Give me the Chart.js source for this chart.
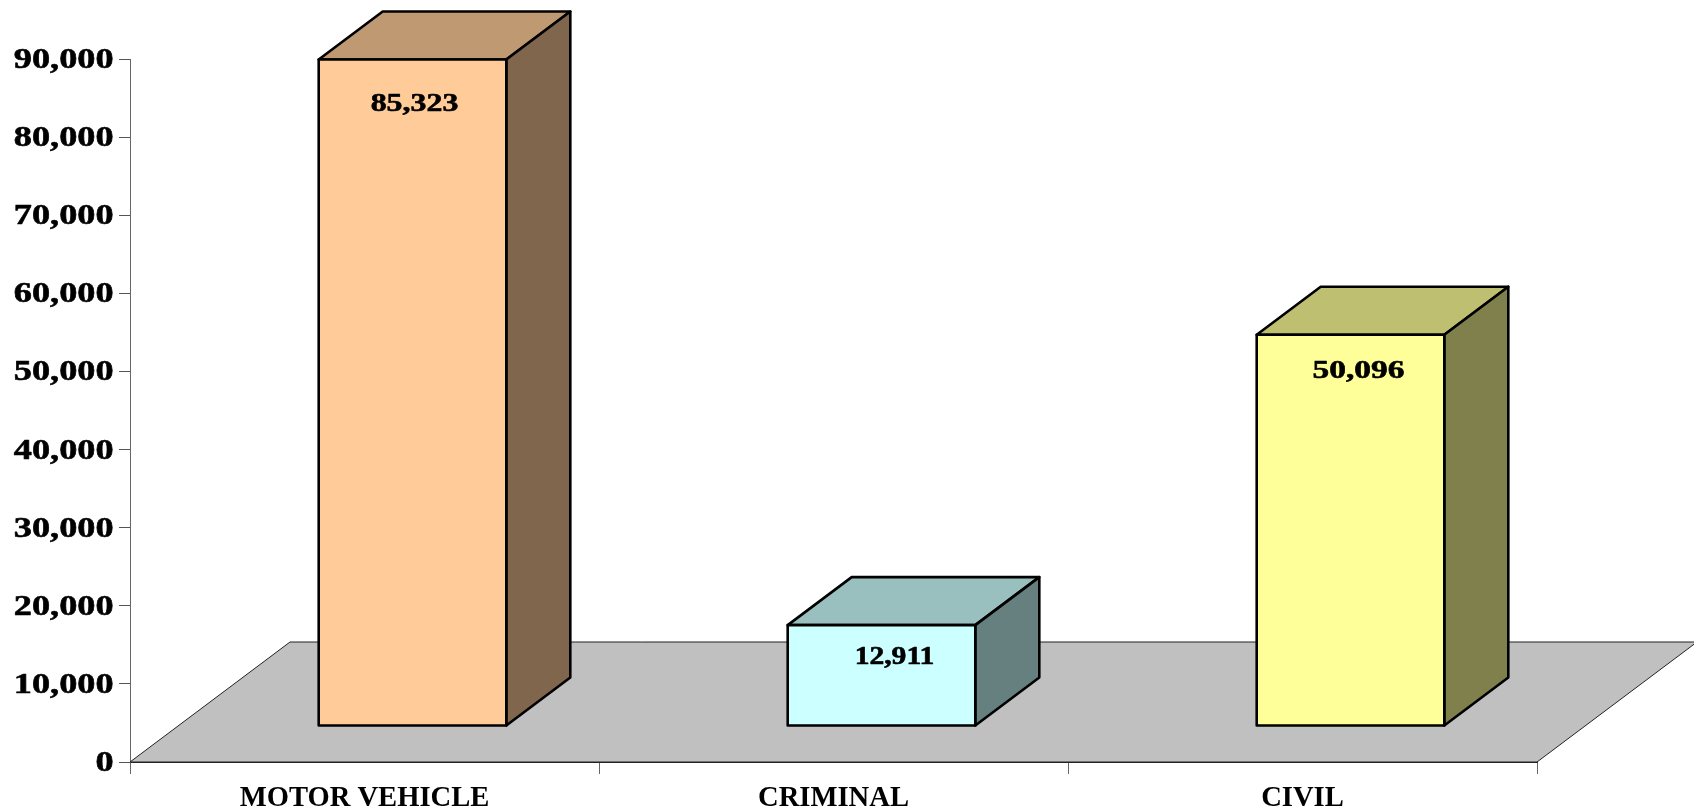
<!DOCTYPE html>
<html>
<head>
<meta charset="utf-8">
<title>Filings by case type</title>
<script src="https://cdn.jsdelivr.net/npm/chart.js@4"></script>
<style>
  html, body { margin: 0; padding: 0; background: #fff; }
  canvas { display: block; }
</style>
</head>
<body>
<canvas id="chart" width="1694" height="812"></canvas>
<script>
const categories = ['MOTOR VEHICLE', 'CRIMINAL', 'CIVIL'];
const caseCounts = [85323, 12911, 50096];
const yTicks = [0, 10000, 20000, 30000, 40000, 50000, 60000, 70000, 80000, 90000];

const frontColors = ['#FFCC99', '#CCFFFF', '#FFFF99'];
const topColors = ['#BF9972', '#99BFBF', '#BFBF72'];
const sideColors = ['#80664D', '#668080', '#80804D'];

// label nudges from the bar's centre / top, the original places them unevenly
const labelShiftX = [2, 13, 8];
const labelShiftY = [45, 32, 37];
const labelWide = [1.25, 1.16, 1.31];

const FONT = '"Liberation Serif", serif';
const TICK_WIDE = 1.25; // the numbers in the original are stretched sideways
const EDGE = 2.6;

// 3d look: floor receded by this much, bars stand part way back on it
const floorDepth = { x: 160, y: 120 };
const barLift = { x: 48, y: 36 };
const barDepth = { x: 64, y: 48 };

function fillPoly(ctx, pts, fill, stroke, lineWidth) {
  ctx.beginPath();
  pts.forEach((p, i) => i ? ctx.lineTo(p[0], p[1]) : ctx.moveTo(p[0], p[1]));
  ctx.closePath();
  if (fill) {
    ctx.fillStyle = fill;
    ctx.fill();
  }
  if (stroke) {
    ctx.strokeStyle = stroke;
    ctx.lineWidth = lineWidth;
    ctx.lineJoin = 'round';
    ctx.stroke();
  }
}

function wideText(ctx, text, x, y, align, size, wide) {
  ctx.save();
  ctx.translate(x, y);
  ctx.scale(wide, 1);
  ctx.font = 'bold ' + size + 'px ' + FONT;
  ctx.fillStyle = '#000';
  ctx.strokeStyle = '#000';
  ctx.lineWidth = 0.6;
  ctx.textAlign = align;
  ctx.textBaseline = 'middle';
  ctx.fillText(text, 0, 0);
  ctx.strokeText(text, 0, 0);
  ctx.restore();
}

const box3d = {
  id: 'box3d',
  beforeDatasetsDraw(chart) {
    const ctx = chart.ctx;
    const area = chart.chartArea;

    // floor
    fillPoly(ctx, [
      [area.left, area.bottom],
      [area.left + floorDepth.x, area.bottom - floorDepth.y],
      [area.right + floorDepth.x, area.bottom - floorDepth.y],
      [area.right, area.bottom]
    ], '#C0C0C0', '#222', 1);

    // everything in the dataset layer sits on the floor, not on the axis line
    ctx.save();
    ctx.translate(barLift.x, -barLift.y);

    chart.getDatasetMeta(0).data.forEach((bar, i) => {
      const left = bar.x - bar.width / 2;
      const right = bar.x + bar.width / 2;
      const dx = barDepth.x, dy = barDepth.y;
      fillPoly(ctx, [[left, bar.y], [left + dx, bar.y - dy], [right + dx, bar.y - dy], [right, bar.y]],
        topColors[i], '#000', EDGE);
      fillPoly(ctx, [[right, bar.y], [right + dx, bar.y - dy], [right + dx, bar.base - dy], [right, bar.base]],
        sideColors[i], '#000', EDGE);
    });
  },
  afterDatasetsDraw(chart) {
    const ctx = chart.ctx;
    chart.getDatasetMeta(0).data.forEach((bar, i) => {
      const left = bar.x - bar.width / 2;
      const right = bar.x + bar.width / 2;
      // centred outline, the bar's own border would sit inside the value height
      fillPoly(ctx, [[left, bar.y], [right, bar.y], [right, bar.base], [left, bar.base]], null, '#000', EDGE);
      wideText(ctx, caseCounts[i].toLocaleString('en-US'),
        bar.x + labelShiftX[i], bar.y + labelShiftY[i], 'center', 25.5, labelWide[i]);
    });
    ctx.restore();

    // y tick labels
    const y = chart.scales.y;
    y.ticks.forEach((tick, i) => {
      wideText(ctx, tick.label, 113.5, y.getPixelForTick(i) + 1.5, 'right', 29, TICK_WIDE);
    });
  }
};

new Chart(document.getElementById('chart'), {
  type: 'bar',
  data: {
    labels: categories,
    datasets: [{
      data: caseCounts,
      backgroundColor: frontColors,
      borderWidth: 0,
      barPercentage: 0.4,
      categoryPercentage: 1,
      clip: false
    }]
  },
  options: {
    responsive: false,
    animation: false,
    layout: { padding: { top: 59, right: 157, bottom: 0, left: 0 } },
    plugins: { legend: { display: false }, tooltip: { enabled: false } },
    scales: {
      x: {
        afterFit(scale) { scale.height = 50; },
        border: { color: '#222', width: 1 },
        grid: { drawOnChartArea: false, color: '#666', tickLength: 12 },
        ticks: {
          color: '#000',
          padding: 7,
          maxRotation: 0,
          font: { family: FONT, size: 28.6, weight: 'bold' }
        }
      },
      y: {
        min: yTicks[0],
        max: yTicks[yTicks.length - 1],
        afterFit(scale) { scale.width = 130; },
        afterBuildTicks(scale) { scale.ticks = yTicks.map(v => ({ value: v })); },
        border: { color: '#666', width: 1 },
        grid: { drawOnChartArea: false, color: '#555', tickLength: 11 },
        ticks: {
          display: false,
          callback: v => v.toLocaleString('en-US')
        }
      }
    }
  },
  plugins: [box3d]
});
</script>
</body>
</html>
